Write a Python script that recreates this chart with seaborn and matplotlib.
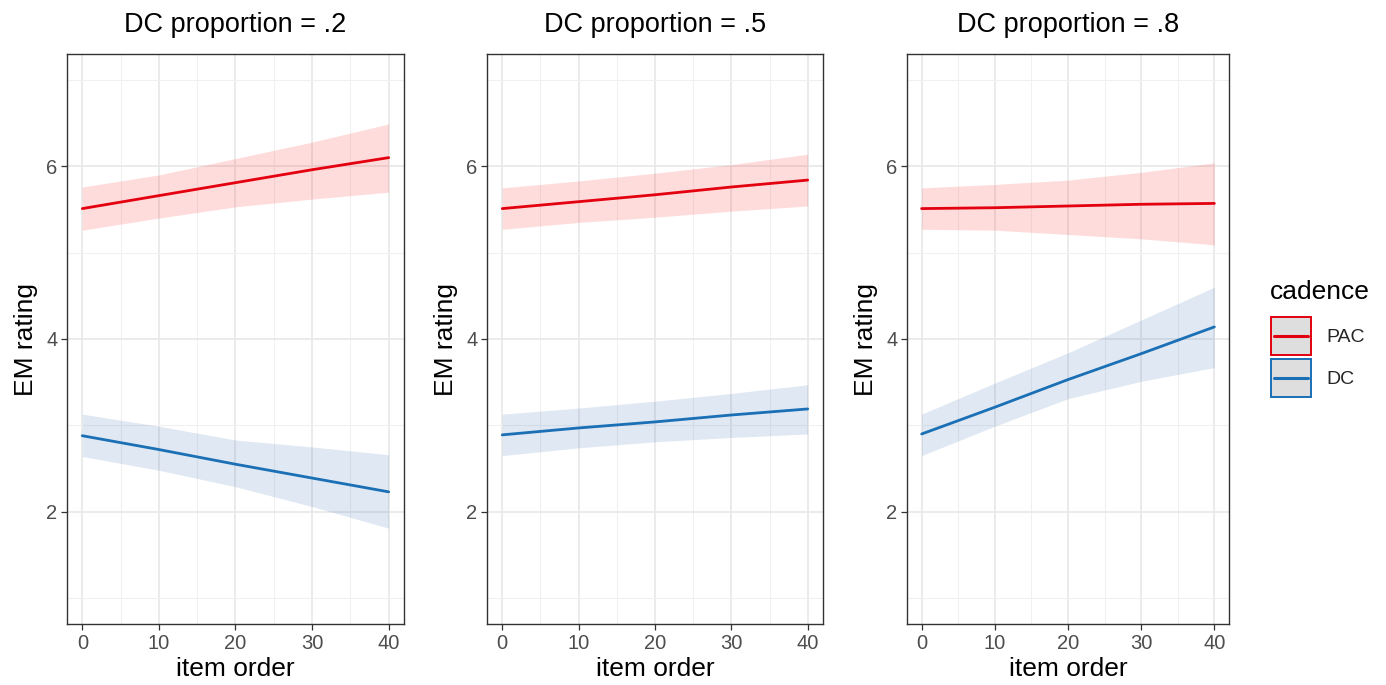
import numpy as np
import pandas as pd
import matplotlib
matplotlib.use("Agg")
import matplotlib.pyplot as plt
import seaborn as sns
from matplotlib.patches import Rectangle
from matplotlib.lines import Line2D
from matplotlib.legend_handler import HandlerBase
from matplotlib.ticker import MultipleLocator

sns.set_theme(style="white")
plt.rcParams['font.family'] = ['Liberation Sans', 'DejaVu Sans']

# ---- data ----
item_order = [0, 10, 20, 30, 40]
panels = ["DC proportion = .2", "DC proportion = .5", "DC proportion = .8"]
cadences = ["PAC", "DC"]

pac_fit_02 = [5.51, 5.66, 5.81, 5.96, 6.10]
pac_lo_02 = [5.26, 5.40, 5.53, 5.62, 5.70]
pac_hi_02 = [5.76, 5.90, 6.09, 6.28, 6.49]
dc_fit_02 = [2.88, 2.72, 2.55, 2.39, 2.23]
dc_lo_02 = [2.64, 2.48, 2.29, 2.06, 1.81]
dc_hi_02 = [3.13, 2.99, 2.83, 2.75, 2.66]

pac_fit_05 = [5.51, 5.59, 5.67, 5.76, 5.84]
pac_lo_05 = [5.27, 5.35, 5.41, 5.48, 5.54]
pac_hi_05 = [5.75, 5.83, 5.92, 6.02, 6.14]
dc_fit_05 = [2.89, 2.97, 3.04, 3.12, 3.19]
dc_lo_05 = [2.65, 2.74, 2.81, 2.86, 2.90]
dc_hi_05 = [3.13, 3.20, 3.28, 3.37, 3.47]

pac_fit_08 = [5.51, 5.52, 5.54, 5.56, 5.57]
pac_lo_08 = [5.27, 5.26, 5.21, 5.16, 5.09]
pac_hi_08 = [5.75, 5.79, 5.84, 5.93, 6.04]
dc_fit_08 = [2.90, 3.21, 3.53, 3.83, 4.14]
dc_lo_08 = [2.65, 2.99, 3.31, 3.51, 3.67]
dc_hi_08 = [3.13, 3.49, 3.84, 4.22, 4.60]

rows = []
series = {
    panels[0]: {"PAC": (pac_fit_02, pac_lo_02, pac_hi_02), "DC": (dc_fit_02, dc_lo_02, dc_hi_02)},
    panels[1]: {"PAC": (pac_fit_05, pac_lo_05, pac_hi_05), "DC": (dc_fit_05, dc_lo_05, dc_hi_05)},
    panels[2]: {"PAC": (pac_fit_08, pac_lo_08, pac_hi_08), "DC": (dc_fit_08, dc_lo_08, dc_hi_08)},
}
for p in panels:
    for c in cadences:
        fit, lo, hi = series[p][c]
        for x, f, l, h in zip(item_order, fit, lo, hi):
            rows.append(dict(panel=p, cadence=c, item_order=x, fit=f, lo=l, hi=h))
df = pd.DataFrame(rows)

line_colors = {"PAC": "#E3000F", "DC": "#1A6FB5"}
fill_colors = {"PAC": "#FF2A2A", "DC": "#2A66B0"}
fill_alpha = {"PAC": 0.16, "DC": 0.15}

W, H = 1386, 685
fig = plt.figure(figsize=(W / 100, H / 100), dpi=100)

boxes = [(67, 404), (487, 823), (907, 1229)]
top, bottom = 54, 624

for p, (l, r) in zip(panels, boxes):
    ax = fig.add_axes([l / W, (H - bottom) / H, (r - l) / W, (bottom - top) / H])
    sub = df[df.panel == p]
    for c in cadences:
        s = sub[sub.cadence == c]
        ax.fill_between(s.item_order, s.lo, s.hi, color=fill_colors[c],
                        alpha=fill_alpha[c], linewidth=0, zorder=2)
    sns.lineplot(data=sub, x="item_order", y="fit", hue="cadence",
                 palette=line_colors, hue_order=cadences, linewidth=2.0,
                 legend=False, ax=ax, zorder=3)
    ax.set_xlim(-2, 42)
    ax.set_ylim(0.7, 7.3)
    ax.xaxis.set_major_locator(MultipleLocator(10))
    ax.xaxis.set_minor_locator(MultipleLocator(5))
    ax.set_yticks([2, 4, 6])
    ax.set_yticks([1, 3, 5, 7], minor=True)
    ax.grid(which="major", color="#E8E8E8", linewidth=1.2, zorder=0)
    ax.grid(which="minor", color="#F0F0F0", linewidth=0.8, zorder=0)
    ax.set_axisbelow(True)
    for sp in ax.spines.values():
        sp.set_color("#333333")
        sp.set_linewidth(1.0)
    ax.tick_params(which="major", direction="out", length=4, width=0.9,
                   color="#333333", labelcolor="#4D4D4D", labelsize=14.5,
                   bottom=True, left=True, pad=3)
    ax.tick_params(which="minor", length=0)
    ax.set_xlabel("item order", fontsize=19, color="black", labelpad=3)
    ax.set_ylabel("EM rating", fontsize=19, color="black", labelpad=6)
    ax.set_title(p, fontsize=19.5, color="black", pad=16)


class KeyHandler(HandlerBase):
    def create_artists(self, legend, orig_handle, xdescent, ydescent,
                       width, height, fontsize, trans):
        color = line_colors[orig_handle.get_label()]
        rect = Rectangle((-xdescent, -ydescent), width, height,
                         facecolor="#DEDEDE", edgecolor=color,
                         linewidth=1.4, transform=trans, zorder=1)
        yc = -ydescent + height / 2.0
        inset = width * 0.08
        ln = Line2D([-xdescent + inset, -xdescent + width - inset], [yc, yc],
                    color=color, linewidth=2.2, transform=trans, zorder=2)
        return [rect, ln]


handles = [Line2D([0], [0], color=line_colors[c], label=c) for c in cadences]

fig.text(1270 / W, 1 - 292 / H, "cadence", fontsize=19, color="black",
         ha="left", va="center")
leg = fig.legend(handles, cadences,
                 handler_map={Line2D: KeyHandler()},
                 loc="upper left", bbox_to_anchor=(1271 / W, 1 - 317 / H),
                 frameon=False, fontsize=14,
                 handlelength=2.05, handleheight=2.6, labelspacing=0.22,
                 handletextpad=0.8, borderaxespad=0, borderpad=0)

fig.savefig("out.png", dpi=100)
